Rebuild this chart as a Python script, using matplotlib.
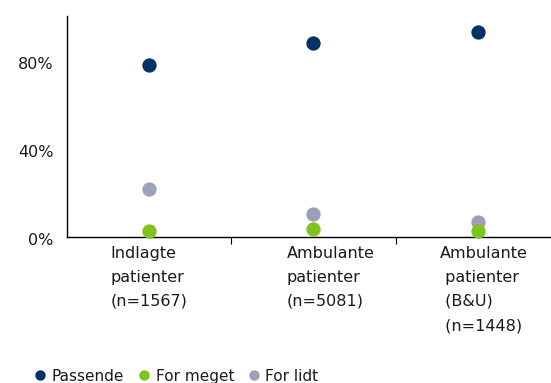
import matplotlib
matplotlib.use("Agg")
import matplotlib.pyplot as plt
import matplotlib.transforms as mtransforms
from matplotlib.lines import Line2D
from matplotlib.ticker import FixedLocator, PercentFormatter

plt.rcParams['font.family'] = ['DejaVu Sans']

# Data
categories = ["Indlagte\npatienter\n(n=1567)",
              "Ambulante\npatienter\n(n=5081)",
              "Ambulante\n patienter\n (B&U)\n (n=1448)"]
passende = [0.776, 0.876, 0.928]
for_meget = [0.024, 0.033, 0.025]
for_lidt = [0.216, 0.104, 0.065]
series_names = ["Passende", "For meget", "For lidt"]
yticks = [0.0, 0.4, 0.8]

c_pass = "#033366"
c_meget = "#7fc31c"
c_lidt = "#9ba1b6"

fig = plt.figure(figsize=(5.51, 3.83), dpi=100)
ax = fig.add_axes([0.1216, 0.3825, 0.8947, 0.5757])

x = list(range(len(categories)))
ms = 10.3
ax.plot(x, passende, 'o', color=c_pass, ms=ms, mec='none', zorder=3, clip_on=False)
ax.plot(x, for_lidt, 'o', color=c_lidt, ms=ms, mec='none', zorder=3, clip_on=False)
ax.plot(x, for_meget, 'o', color=c_meget, ms=ms, mec='none', zorder=4, clip_on=False)

ax.set_xlim(-0.5, len(categories) - 0.5)
ax.set_ylim(0, 1.0)

for s in ['top', 'right']:
    ax.spines[s].set_visible(False)
for s in ['left', 'bottom']:
    ax.spines[s].set_color('black')
    ax.spines[s].set_linewidth(1.0)

ax.set_yticks(yticks)
ax.yaxis.set_major_formatter(PercentFormatter(1.0, decimals=0))
ax.tick_params(axis='y', length=0, pad=9.7, labelsize=11.5, labelcolor='#1a1a1a')
# nudge the percentage labels slightly downward
shift = mtransforms.ScaledTranslation(0, -2.5 / 100, fig.dpi_scale_trans)
for t in ax.get_yticklabels():
    t.set_transform(t.get_transform() + shift)

ax.xaxis.set_major_locator(FixedLocator([i + 0.5 for i in x]))
ax.tick_params(axis='x', length=5, direction='out', labelbottom=False, color='black')

# Category labels, left-aligned beneath each group
x_offsets = [-39, -27, -38]
for i, (lab, dx) in enumerate(zip(categories, x_offsets)):
    ax.annotate(lab, xy=(i, 0), xycoords=('data', 'axes fraction'),
                xytext=(dx, -9), textcoords='offset pixels',
                ha='left', va='top', multialignment='left',
                fontsize=11.5, color='#1a1a1a', linespacing=1.77,
                annotation_clip=False)

# Legend along the bottom
handles = [Line2D([], [], marker='o', ls='none', color=c, mec='none', ms=7.5)
           for c in (c_pass, c_meget, c_lidt)]
fig.legend(handles, series_names, loc='lower left', bbox_to_anchor=(0.04, -0.038),
           ncol=3, frameon=False, fontsize=11, handlelength=0.6,
           handletextpad=0.45, columnspacing=1.0, labelcolor='#1a1a1a')

fig.savefig("out.png", dpi=100)
